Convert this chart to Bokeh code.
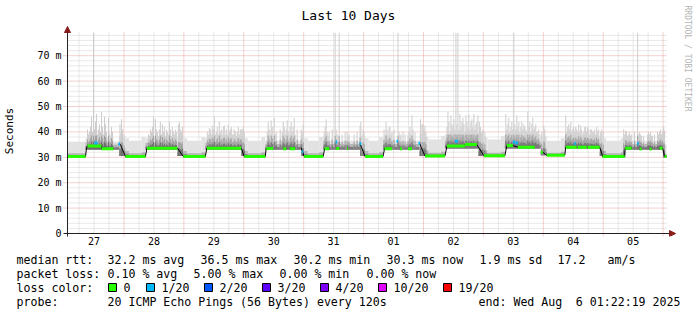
import math
from bokeh.plotting import figure
from bokeh.layouts import column
from bokeh.models import FixedTicker, Arrow, NormalHead, Title
from bokeh.core.properties import value
from bokeh.embed import file_html
from bokeh.resources import INLINE

# ---------------- data ----------------
# time: hours since Jul 27 00:00 ; latency: milliseconds
T_START = 1.372          # Jul 27 01:22:19
T_END = 241.372          # Aug  6 01:22:19

title_text = "Last 10 Days"
y_axis_title = "Seconds"
watermark = "RRDTOOL / TOBI OETIKER"

day_ticks = [12, 36, 60, 84, 108, 132, 156, 180, 204, 228]
day_labels = ["27", "28", "29", "30", "31", "01", "02", "03", "04", "05"]
y_ticks = [0, 10, 20, 30, 40, 50, 60, 70]
y_labels = ["0", "10 m", "20 m", "30 m", "40 m", "50 m", "60 m", "70 m"]

nan = float("nan")
median_t = [1.4, 8.6, 9.0, 9.4, 15.0, 15.0, 19.8, nan,
            21.8, 22.6, 24.6, 32.6, 33.2, 45.4, 47.8, 56.6, 57.2, 71.0, 72.2, 80.6, 81.0, 83.8, nan,
            87.8, 89.0, nan, 90.4, 92.6, nan,
            95.0, 96.2, 103.8, 104.4, 106.2, nan, 109.0, 110.2, nan, 113.4, 113.8, nan,
            118.6, 120.6, 127.8, 128.4, 131.4, nan, 134.6, 135.4, nan, 137.8, 139.4, nan,
            142.4, 144.6, 152.6, 153.4, 160.6, 160.6, 165.4, 168.2, 176.6, 177.4, 179.8, 181.8, 188.6, nan,
            191.0, 191.8, 193.4, 200.6, 201.0, 205.4, nan, 205.8, 209.4, nan, 209.8, 214.6, 215.8, 224.6,
            224.8, 227.4, nan, 230.6, 231.4, nan, 234.6, 235.4, nan, 238.6, 239.8, 240.6, 241.4]
median_ms = [30.3, 30.3, 33.8, 34.4, 34.4, 33.4, 33.4, nan,
             35.2, 35.0, 30.3, 30.3, 33.6, 33.6, 30.3, 30.3, 33.6, 33.6, 30.3, 30.3, 33.5, 33.5, nan,
             33.4, 33.4, nan, 33.4, 33.4, nan,
             33.8, 30.3, 30.3, 33.4, 33.4, nan, 33.5, 33.5, nan, 33.4, 33.4, nan,
             35.4, 30.3, 30.3, 33.4, 33.4, nan, 33.4, 33.4, nan, 33.4, 33.4, nan,
             35.5, 30.5, 30.5, 34.4, 34.4, 35.0, 35.0, 30.6, 30.6, 34.6, 34.6, 34.0, 34.0, nan,
             32.0, 32.0, 30.8, 30.8, 34.0, 34.0, nan, 34.0, 34.0, nan, 34.0, 34.0, 30.3, 30.3,
             33.6, 33.6, nan, 33.3, 33.3, nan, 33.3, 33.3, nan, 33.6, 33.6, 30.3, 30.3]

# smoke bands: spread of the 20 pings (start, end, lowest, dense-part top, highest)
smoke_start = [1.4, 8.6, 19.8, 22.0, 24.6, 26.0, 31.0, 32.6, 45.4, 47.8, 49.2, 55.0, 56.6,
               71.0, 72.2, 73.6, 79.0, 80.6, 95.0, 96.2, 97.6, 102.2, 103.8, 118.6, 120.6,
               122.0, 126.2, 127.8, 142.4, 144.6, 146.0, 151.0, 152.6, 166.0, 168.2, 169.6,
               175.0, 176.6, 191.0, 193.4, 199.0, 200.6, 214.6, 215.8, 217.2, 223.0, 224.6, 240.0]
smoke_end = [8.6, 19.8, 22.0, 24.6, 26.0, 31.0, 32.6, 45.4, 47.8, 49.2, 55.0, 56.6, 71.0,
             72.2, 73.6, 79.0, 80.6, 95.0, 96.2, 97.6, 102.2, 103.8, 118.6, 120.6, 122.0,
             126.2, 127.8, 142.4, 144.6, 146.0, 151.0, 152.6, 166.0, 168.2, 169.6, 175.0,
             176.6, 191.0, 193.4, 199.0, 200.6, 214.6, 215.8, 217.2, 223.0, 224.6, 240.0, 241.4]
smoke_low = [30.0, 33.0, 33.0, 30.5, 30.0, 30.0, 30.0, 33.0, 30.5, 30.0, 30.0, 30.0, 33.0,
             30.5, 30.0, 30.0, 30.0, 33.0, 30.5, 30.0, 30.0, 30.0, 33.0, 30.5, 30.0,
             30.0, 30.0, 33.0, 30.5, 30.2, 30.2, 30.2, 33.5, 30.5, 30.3, 30.3,
             30.3, 33.5, 30.8, 30.5, 30.5, 33.5, 30.5, 30.0, 30.0, 30.0, 33.0, 30.0]
smoke_mid = [31.6, 35.8, 35.0, 33.5, 32.5, 31.6, 32.0, 35.6, 33.5, 32.5, 31.6, 32.0, 35.6,
             33.5, 32.5, 31.6, 32.0, 35.2, 33.5, 32.5, 31.6, 32.0, 35.2, 33.5, 32.5,
             31.6, 32.0, 35.2, 34.0, 32.8, 31.8, 32.2, 36.5, 34.0, 32.8, 31.8,
             32.2, 36.2, 33.5, 31.8, 32.2, 36.0, 33.5, 32.5, 31.6, 32.0, 35.2, 31.2]
smoke_high = [36.0, 37.5, 36.0, 38.5, 37.5, 36.5, 38.0, 37.5, 38.5, 37.5, 36.5, 38.0, 37.5,
              38.5, 37.5, 36.5, 38.0, 36.5, 38.5, 37.5, 36.5, 38.0, 36.5, 38.5, 37.5,
              36.5, 38.0, 36.5, 39.5, 38.0, 37.0, 38.5, 39.0, 39.5, 38.0, 37.0,
              38.5, 39.0, 38.5, 36.5, 37.5, 38.5, 38.5, 37.5, 36.5, 37.5, 36.5, 35.0]

spike_t = [9.4, 9.8, 10.2, 10.6, 11.0, 11.4, 11.8, 12.2, 12.6, 13.0, 13.4, 13.8, 14.2, 14.6, 15.0,
           15.4, 15.8, 16.2, 16.6, 17.0, 17.8, 18.0, 18.4, 18.8, 19.0, 19.4,
           22.4, 22.8, 23.0, 23.4, 24.0,
           33.8, 34.2, 34.6, 35.0, 35.4, 35.8, 36.6, 37.0, 37.4, 37.8, 38.2, 38.6, 39.0, 39.4, 39.8,
           40.2, 40.6, 41.0, 41.4, 41.8, 42.2, 42.6, 43.0, 43.4, 43.8, 44.2, 44.6, 45.0,
           45.8, 46.2, 46.6, 47.0, 47.4,
           57.4, 57.8, 58.2, 58.6, 59.0, 59.4, 59.8, 60.2, 60.6, 61.0, 61.4, 61.8, 62.2, 62.6, 63.0,
           63.4, 63.8, 64.2, 64.6, 65.0, 65.4, 65.8, 66.2, 66.6, 67.0, 67.4, 67.8, 68.2, 68.6, 69.0,
           69.4, 69.8, 70.2, 70.6, 71.0, 71.4, 71.8, 72.2,
           81.4, 81.8, 82.2, 82.6, 83.0, 83.4, 84.2, 84.6, 85.0, 86.6, 87.4, 87.8, 88.2, 88.6, 89.0,
           89.4, 89.8, 90.2, 90.6, 91.0, 91.4, 91.8, 92.2, 92.6, 93.4, 95.0, 95.4, 95.8,
           104.2, 104.6, 105.0, 105.4, 105.8, 106.2, 107.4, 108.6, 109.0, 109.4, 110.2, 111.4,
           112.6, 113.4, 113.8, 114.2, 116.2, 117.4, 118.6, 118.9, 119.8, 120.2,
           128.2, 128.6, 129.0, 129.4, 129.8, 130.2, 130.6, 131.0, 131.4, 132.2, 133.8, 134.2,
           134.6, 135.0, 135.8, 136.6, 137.8, 138.2, 138.6, 139.0, 139.4, 139.8, 140.6,
           142.8, 143.4, 143.8, 144.2, 144.6, 145.0,
           153.4, 153.8, 154.2, 154.6, 155.0, 155.4, 155.8, 156.2, 156.6, 157.0, 157.4, 157.8,
           158.2, 158.6, 159.0, 159.4, 159.8, 160.2, 160.6, 161.0, 161.4, 161.8, 162.2, 162.6,
           163.0, 163.4, 163.8, 164.2, 164.6, 165.0, 165.4, 165.8,
           166.4, 166.8, 167.0, 167.4, 167.8, 168.6,
           177.0, 177.4, 177.8, 178.2, 178.6, 179.0, 179.4, 179.8, 180.2, 180.6, 181.0, 181.4,
           181.8, 182.2, 182.6, 183.0, 183.4, 183.8, 184.2, 184.6, 185.0, 185.4, 185.8, 186.2,
           186.6, 187.0, 187.4, 187.8, 188.2, 188.6, 189.0, 189.4, 189.8, 190.2,
           191.4, 192.2, 192.6,
           201.0, 201.4, 201.8, 202.2, 202.6, 203.0, 203.4, 203.8, 204.2, 204.6, 205.0, 205.4,
           205.8, 206.2, 206.6, 207.0, 207.4, 207.8, 208.2, 208.6, 209.0, 209.4, 209.8, 210.2,
           210.6, 211.0, 211.4, 211.8, 212.2, 212.6, 213.0, 213.4, 213.8, 214.2,
           215.0, 215.4, 216.0,
           224.2, 224.6, 225.0, 225.4, 225.8, 226.2, 226.6, 227.0, 227.4, 228.6, 229.8, 230.2,
           230.6, 231.0, 231.4, 232.2, 233.8, 234.2, 234.6, 235.0, 235.4, 235.8, 236.6, 237.8,
           238.2, 238.6, 239.0, 239.4, 239.8, 240.2, 240.4, 240.6]
spike_top = [41, 39, 40, 42, 46, 40, 79, 41, 44, 47, 39, 41, 43, 40, 48,
             42, 39, 46, 43, 40, 45.5, 40, 39, 38.5, 42, 40,
             43, 40, 45, 41, 39,
             39, 38.5, 41, 40, 42, 46, 45, 41, 40, 38.5, 41, 44, 39, 43, 40,
             42, 38.5, 41, 40, 39, 44, 41, 38.5, 42, 40, 39, 41, 40,
             43, 44, 41, 40, 42,
             40, 39, 41.5, 41, 39, 42.5, 41, 46, 39, 40, 42, 39, 44, 40, 41,
             39, 42, 42.5, 39, 41, 39, 43, 40, 41, 42, 39, 39, 41, 40, 38.5,
             40, 42, 39, 41, 41, 41, 42, 40,
             40, 44, 41, 39, 44.5, 42, 45.5, 39, 40, 41, 40, 44, 42, 39, 41,
             44.5, 40, 39, 42, 44, 40, 42, 45.5, 39, 41, 41, 40, 43,
             40, 42, 45, 40, 38.5, 40, 41, 79, 41, 39, 79, 39,
             40, 40, 38.5, 39, 39, 40, 42.5, 44, 41, 40,
             41, 39, 44, 41, 39, 42, 42, 39, 40, 41, 79, 40,
             38.5, 39, 40, 39, 39, 40, 42, 39, 46.5, 41, 40,
             45, 43, 43, 41, 42.5, 40,
             42, 48, 44, 40, 46.5, 43, 42, 45, 41, 79, 43, 79,
             41, 47, 42, 44, 45.5, 43, 40, 46.5, 44, 42, 47, 41,
             44, 45, 42, 47, 41, 43, 44, 46.5,
             44, 42, 40, 40, 41, 40,
             47, 41, 43, 45.5, 40, 42, 44, 41, 79, 43, 41, 46.5,
             42, 44, 40, 42, 44, 41, 43, 42, 41, 40, 48, 42,
             44, 40, 43, 45.5, 41, 42, 43, 40, 40, 41,
             40, 42.5, 41,
             46.5, 40, 42, 43, 41, 44, 40, 41, 42, 40, 42, 41,
             40, 43, 40, 42.5, 41, 39, 40, 42, 42, 40, 42, 41,
             39, 41, 41, 40, 40, 41, 39, 42, 40, 41,
             40, 41, 40,
             41, 39, 40.5, 40, 38.5, 39, 40, 38.5, 39, 40, 79, 39,
             40, 39, 38.5, 38.5, 39, 40, 39, 40, 38.5, 38.5, 39, 40,
             39, 40, 41, 39, 40, 42, 41, 40]

loss_start = [12.2, 21.8, 95.2, 108.8, 118.4, 133.2, 142.0, 156.6, 179.8, 180.8, 204.4, 229.6]
loss_end = [13.4, 22.4, 95.8, 109.4, 119.0, 133.8, 142.6, 157.8, 180.6, 181.8, 205.0, 230.2]
loss_ms = [35.6, 35.2, 32.2, 36.0, 35.4, 36.3, 35.5, 36.3, 36.0, 35.6, 35.4, 35.4]
loss_count = [1, 1, 1, 1, 1, 1, 1, 1, 1, 1, 1, 1]

loss_levels = [0, 1, 2, 3, 4, 10, 19]
loss_names = ["0", "1/20", "2/20", "3/20", "4/20", "10/20", "19/20"]
loss_colors = ["#26ff00", "#00b8ff", "#0059ff", "#5e00ff", "#7e00ff", "#dd00ff", "#ff0000"]

rtt_title = "median rtt:"
rtt_stats = ["32.2 ms avg", "36.5 ms max", "30.2 ms min", "30.3 ms now", "1.9 ms sd", "17.2", "am/s"]
pl_title = "packet loss:"
pl_stats = ["0.10 % avg", "5.00 % max", "0.00 % min", "0.00 % now"]
lc_title = "loss color:"
probe_title = "probe:"
probe_text = "20 ICMP Echo Pings (56 Bytes) every 120s"
end_parts = ["end: Wed Aug", "6 01:22:19 2025"]     # "end: Wed Aug  6 01:22:19 2025"

# ---------------- layout ----------------
W = 697
H1, H2 = 250, 65                        # main chart / legend strip
FL, FR, FT, FB = 61, 676, 25, 236       # frame edges (px)
X0, Y0 = 66, 233                        # px of T_START and of 0 ms
PXH, PXM = 2.5, 2.54                    # px per hour, px per ms

def hx(px):
    return T_START + (px - X0) / PXH

def vy(py):
    return (Y0 - py) / PXM

FONT = "DejaVu Sans Mono"
MGRID = "#eaa2a2"
GRID = "#d2d2d2"
ARROW = "#8a1c1c"

p = figure(width=W, height=H1, x_range=(hx(FL), hx(FR)), y_range=(vy(FB), vy(FT)),
           output_backend="svg", toolbar_location=None,
           min_border_left=FL, min_border_right=W - FR, min_border_top=FT, min_border_bottom=H1 - FB)
p.frame_align = False
p.outline_line_color = None
p.xgrid.visible = False
p.ygrid.visible = False
p.background_fill_color = "white"
p.border_fill_color = "white"

# title and watermark
p.title.text = title_text
p.title.align = "left"
p.title.offset = 300 - FL
p.title.text_font = FONT
p.title.text_font_size = "13px"
p.title.text_font_style = "normal"
p.title.text_color = "#000000"
p.title.standoff = 6
p.add_layout(Title(text=watermark, align="left", offset=-20, vertical_align="middle",
                   text_font=FONT, text_font_size="8px", text_font_style="normal",
                   text_color="#b4b4b4", standoff=10), "right")

# grid
top_v = vy(31)
minor_v = [t for t in range(6, 241, 6) if t % 24 != 0]
major_v = [t for t in range(24, 241, 24)]
minor_h = [m for m in range(2, 80, 2) if m % 10 != 0]
major_h = [m for m in y_ticks if m > 0]
p.segment(x0=minor_v, x1=minor_v, y0=[0] * len(minor_v), y1=[top_v] * len(minor_v),
          line_color=GRID, line_dash="1 1", line_width=1)
p.segment(x0=[T_START] * len(minor_h), x1=[T_END] * len(minor_h), y0=minor_h, y1=minor_h,
          line_color=GRID, line_dash="1 1", line_width=1)
p.segment(x0=major_v, x1=major_v, y0=[vy(237)] * len(major_v), y1=[top_v] * len(major_v),
          line_color=MGRID, line_dash="1 1", line_width=1)
p.segment(x0=[hx(62)] * len(major_h), x1=[T_END] * len(major_h), y0=major_h, y1=major_h,
          line_color=MGRID, line_dash="1 1", line_width=1)

# smoke
p.quad(left=smoke_start, right=smoke_end, bottom=smoke_low, top=smoke_high,
       fill_color="#e2e2e2", line_color=None)
p.quad(left=smoke_start, right=smoke_end, bottom=smoke_low, top=smoke_mid,
       fill_color="#b6b6b6", line_color=None)
p.quad(left=smoke_start, right=smoke_end, bottom=smoke_low,
       top=[a + 0.5 * (b - a) for a, b in zip(smoke_low, smoke_mid)],
       fill_color="#7c7c7c", line_color=None)

# spikes
def base_at(t):
    for a, b, lo in zip(smoke_start, smoke_end, smoke_low):
        if a <= t <= b:
            return lo
    return 31.0

spike_base = [base_at(t) for t in spike_t]
p.segment(x0=spike_t, x1=spike_t, y0=spike_base, y1=spike_top, line_color="#cdcdcd", line_width=1)
p.segment(x0=spike_t, x1=spike_t, y0=spike_base,
          y1=[b + min(0.5 * (t - b), 5.5) for b, t in zip(spike_base, spike_top)],
          line_color="#a0a0a0", line_width=1)
p.segment(x0=spike_t, x1=spike_t, y0=spike_base,
          y1=[b + min(0.25 * (t - b), 3.0) for b, t in zip(spike_base, spike_top)],
          line_color="#6e6e6e", line_width=1)

# median
p.line(median_t, median_ms, line_color="#000000", line_width=1)
gx0, gx1, gy = [], [], []
for i in range(len(median_t) - 1):
    a, b = median_ms[i], median_ms[i + 1]
    if not (math.isnan(a) or math.isnan(b)) and a == b and median_t[i + 1] > median_t[i]:
        gx0.append(median_t[i]); gx1.append(median_t[i + 1]); gy.append(a)
p.segment(x0=gx0, x1=gx1, y0=gy, y1=gy, line_color=loss_colors[0], line_width=3, line_cap="butt")
lcol = [loss_colors[loss_levels.index(n)] for n in loss_count]
p.segment(x0=loss_start, x1=loss_end, y0=loss_ms, y1=loss_ms, line_color=lcol, line_width=3,
          line_cap="butt")

# axis lines with arrows
p.add_layout(Arrow(x_start=hx(62), y_start=0, x_end=hx(675), y_end=0, line_color="#222222",
                   line_width=1, end=NormalHead(size=6, fill_color=ARROW, line_color=ARROW)))
p.add_layout(Arrow(x_start=T_START, y_start=vy(237), x_end=T_START, y_end=vy(26),
                   line_color="#222222", line_width=1,
                   end=NormalHead(size=6, fill_color=ARROW, line_color=ARROW)))

# tick labels
p.xaxis.ticker = FixedTicker(ticks=day_ticks, minor_ticks=[])
p.xaxis.major_label_overrides = {t: l for t, l in zip(day_ticks, day_labels)}
p.yaxis.ticker = FixedTicker(ticks=y_ticks, minor_ticks=[])
p.yaxis.major_label_overrides = {t: l for t, l in zip(y_ticks, y_labels)}
for ax in (p.xaxis[0], p.yaxis[0]):
    ax.axis_line_color = None
    ax.major_tick_line_color = None
    ax.minor_tick_line_color = None
    ax.major_tick_out = 0
    ax.major_tick_in = 0
    ax.major_label_text_font = FONT
    ax.major_label_text_font_size = "10px"
    ax.major_label_text_color = "#000000"
p.yaxis.major_label_standoff = 1
p.xaxis.major_label_standoff = 0
p.yaxis.axis_label = y_axis_title
p.yaxis.axis_label_text_font = FONT
p.yaxis.axis_label_text_font_size = "11px"
p.yaxis.axis_label_text_font_style = "normal"
p.yaxis.axis_label_text_color = "#000000"
p.yaxis.axis_label_standoff = 18

# ---------------- legend strip ----------------
q = figure(width=W, height=H2, x_range=(0, W), y_range=(H1 + H2, H1), output_backend="svg",
           toolbar_location=None, min_border=0, x_axis_location=None, y_axis_location=None)
q.frame_align = False
q.outline_line_color = None
for g in q.grid:
    g.visible = False
q.background_fill_color = "white"
q.border_fill_color = "white"

rows_y = [259, 273, 287, 301]
tx, ty, tt = [], [], []
def put(s, x, y):
    tx.append(x); ty.append(y); tt.append(s)

put(rtt_title, 16, rows_y[0])
for s, x in zip(rtt_stats, [107, 200, 293, 386, 479, 557, 607]):
    put(s, x, rows_y[0])
put(pl_title, 16, rows_y[1])
for s, x in zip(pl_stats, [107, 193, 279, 366]):
    put(s, x, rows_y[1])
put(lc_title, 16, rows_y[2])
box_x = [108, 146, 204, 262, 320, 378, 443]
for name, bx in zip(loss_names, box_x):
    put(name, bx + 15, rows_y[2])
put(probe_title, 16, rows_y[3])
put(probe_text, 107, rows_y[3])
put(end_parts[0], 478, rows_y[3])

q.text(x=tx, y=ty, text=tt, text_font=value(FONT), text_font_size="11.6px",
       text_baseline="middle", text_align="left", text_color="#000000")
q.text(x=[680], y=[rows_y[3]], text=[end_parts[1]], text_font=value(FONT), text_font_size="11.6px",
       text_baseline="middle", text_align="right", text_color="#000000")
q.quad(left=box_x, right=[b + 8 for b in box_x], top=[283] * len(box_x), bottom=[291] * len(box_x),
       fill_color=loss_colors, line_color="#000000", line_width=1)

layout = column(p, q, spacing=0)
open("out.html", "w").write(file_html(layout, INLINE))
